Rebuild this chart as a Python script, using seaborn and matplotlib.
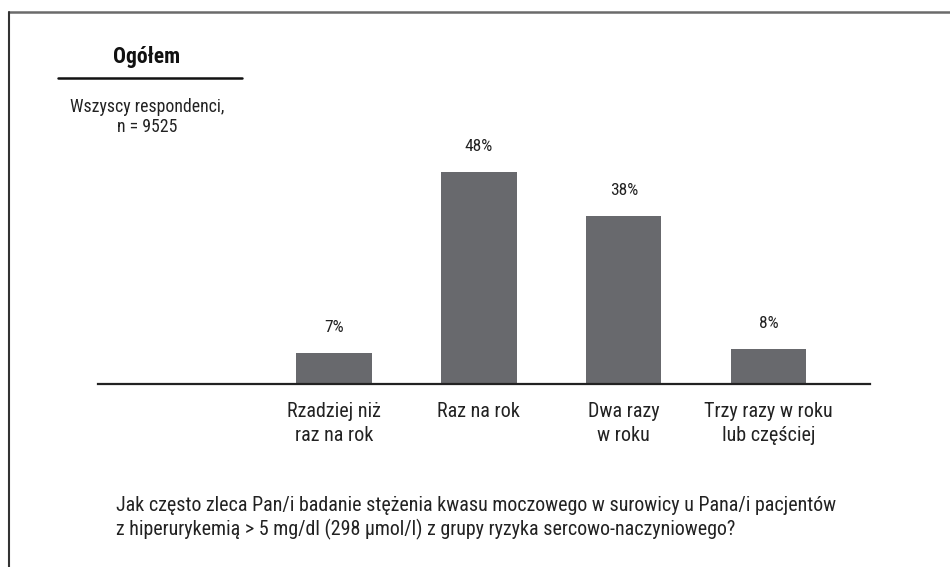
import matplotlib
matplotlib.use("Agg")
import matplotlib.pyplot as plt
import seaborn as sns
import pandas as pd
from matplotlib.lines import Line2D

categories = ["Rzadziej niż\nraz na rok", "Raz na rok", "Dwa razy\nw roku", "Trzy razy w roku\nlub częściej"]
values = [7, 48, 38, 8]
value_labels = ["7%", "48%", "38%", "8%"]

title = "Ogółem"
subtitle = "Wszyscy respondenci,\nn = 9525"
question = ("Jak często zleca Pan/i badanie stężenia kwasu moczowego w surowicy u Pana/i pacjentów\n"
            "z hiperurykemią > 5 mg/dl (298 μmol/l) z grupy ryzyka sercowo-naczyniowego?")

sns.set_style("white")
FONT = ["Roboto Condensed", "DejaVu Sans"]
plt.rcParams["font.family"] = FONT

W, H = 950, 567
fig = plt.figure(figsize=(W / 100, H / 100), dpi=100)

# axes: baseline at y=384 px, spans x 98..870 px
ax_left, ax_right = 98 / W, 870 / W
ax_bottom = (H - 384) / H
ax_top = (H - 100) / H
ax = fig.add_axes([ax_left, ax_bottom, ax_right - ax_left, ax_top - ax_bottom])

df = pd.DataFrame({"cat": categories, "val": values})
sns.barplot(data=df, x="cat", y="val", color="#68696d", width=0.52, ax=ax,
            saturation=1, edgecolor="none")

px_per_unit = 4.42
ax.set_ylim(0, 284 / px_per_unit)
ax.set_xlim(-1.63, 3.70)

for cont in ax.containers:
    ax.bar_label(cont, labels=value_labels, padding=13, fontsize=12.5, color="#222222")

for s in ["top", "right", "left"]:
    ax.spines[s].set_visible(False)
ax.spines["bottom"].set_color("#222222")
ax.spines["bottom"].set_linewidth(1.6)
ax.set_yticks([])
ax.set_xlabel("")
ax.set_ylabel("")
ax.tick_params(axis="x", length=0, pad=13, labelsize=14.5, labelcolor="#222222")
for t in ax.get_xticklabels():
    t.set_linespacing(1.35)

# header block
fig.text(147 / W, 1 - 57 / H, title, ha="center", va="center", fontsize=15.5,
         fontweight=800, color="#111111")
fig.add_artist(Line2D([58 / W, 242 / W], [1 - 78 / H, 1 - 78 / H], color="#111111", lw=1.8))
fig.text(147 / W, 1 - 117 / H, subtitle, ha="center", va="center", fontsize=12.8,
         color="#222222", linespacing=1.2)

# question
fig.text(116 / W, 1 - 518 / H, question, ha="left", va="center", fontsize=14.4,
         color="#222222", linespacing=1.3)

# frame lines
fig.add_artist(Line2D([9 / W, 1.0], [1 - 12 / H, 1 - 12 / H], color="#6b6b6b", lw=1.8))
fig.add_artist(Line2D([9 / W, 9 / W], [0, 1 - 12 / H], color="#333333", lw=1.5))

fig.savefig("out.png", dpi=100)
